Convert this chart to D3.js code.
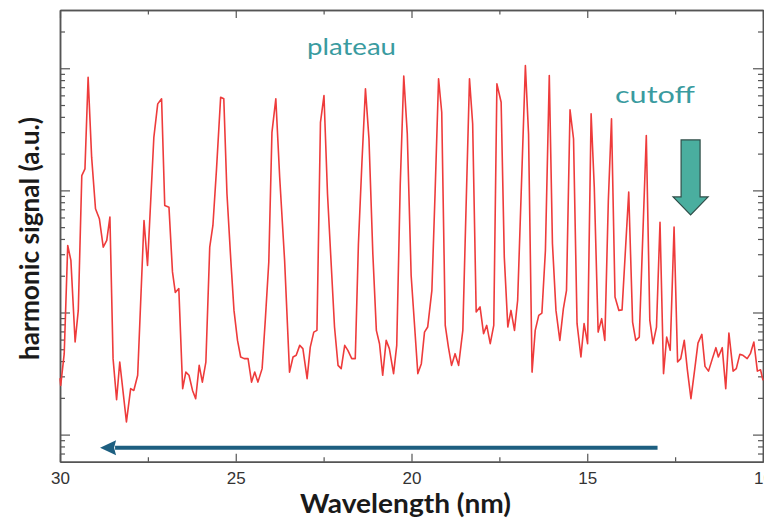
<!DOCTYPE html>
<html>
<head>
<meta charset="utf-8">
<script src="https://cdn.jsdelivr.net/npm/d3@7"></script>
<style>
  body { margin: 0; background: #fff; }
  .axis path, .axis line { stroke: #555; }
  .axis path { stroke-width: 1.5; }
  .axis line { stroke-width: 1.2; }
</style>
</head>
<body>
<div id="chart"></div>
<script>
// harmonic spectrum (wavelength in nm, signal in a.u.)
var wavelength = [30.00, 29.98, 29.88, 29.78, 29.69, 29.57, 29.48, 29.38, 29.29, 29.20,
  29.10, 28.99, 28.88, 28.77, 28.67, 28.58, 28.49, 28.39, 28.30, 28.11,
  27.99, 27.90, 27.79, 27.61, 27.51, 27.33, 27.22, 27.11, 27.02, 26.90,
  26.80, 26.72, 26.62, 26.51, 26.42, 26.33, 26.23, 26.14, 26.04, 25.95,
  25.85, 25.74, 25.65, 25.55, 25.43, 25.34, 25.25, 25.14, 25.05, 24.95,
  24.86, 24.76, 24.65, 24.55, 24.46, 24.37, 24.25, 24.16, 24.06, 23.97,
  23.86, 23.75, 23.61, 23.47, 23.37, 23.28, 23.18, 23.09, 22.97, 22.88,
  22.78, 22.69, 22.59, 22.49, 22.39, 22.28, 22.19, 22.09, 22.00, 21.90,
  21.81, 21.70, 21.60, 21.51, 21.41, 21.31, 21.21, 21.10, 21.00, 20.91,
  20.82, 20.72, 20.63, 20.51, 20.42, 20.32, 20.22, 20.12, 20.01, 19.91,
  19.82, 19.72, 19.63, 19.54, 19.42, 19.33, 19.23, 19.14, 19.04, 18.95,
  18.86, 18.76, 18.66, 18.54, 18.45, 18.35, 18.26, 18.16, 18.05, 17.95,
  17.86, 17.76, 17.66, 17.57, 17.45, 17.36, 17.26, 17.17, 17.07, 16.98,
  16.76, 16.67, 16.57, 16.48, 16.38, 16.29, 16.19, 16.08, 15.99, 15.89,
  15.78, 15.68, 15.59, 15.49, 15.39, 15.29, 15.18, 15.09, 14.99, 14.89,
  14.80, 14.69, 14.59, 14.50, 14.40, 14.31, 14.21, 14.10, 14.01, 13.82,
  13.71, 13.62, 13.52, 13.32, 13.22, 13.13, 13.03, 12.93, 12.83, 12.74,
  12.64, 12.53, 12.43, 12.34, 12.24, 12.15, 12.05, 11.94, 11.85, 11.74,
  11.65, 11.55, 11.44, 11.34, 11.27, 11.16, 11.06, 10.97, 10.85, 10.76,
  10.66, 10.57, 10.45, 10.36, 10.26, 10.16, 10.07, 10.00];

var signal = [2.9, 2.53, 4.60, 35.4, 26.7, 5.73, 10.4, 132, 150, 844,
  187, 70.7, 58.6, 34.3, 38.9, 60.4, 4.19, 1.93, 3.93, 1.27,
  2.38, 2.30, 3.06, 56.7, 24.3, 272, 511, 562, 75.2, 72.9,
  21.5, 14.6, 15.7, 2.38, 3.25, 3.06, 2.30, 1.97, 3.69, 2.69,
  3.93, 34.3, 51.6, 145, 579, 562, 93.8, 26.7, 10.4, 5.91,
  4.32, 4.19, 4.19, 2.69, 3.25, 2.69, 3.47, 8.62, 25.9, 299,
  562, 128, 26.7, 3.25, 4.32, 4.46, 5.38, 5.06, 2.87, 5.21,
  6.91, 7.14, 361, 598, 93.8, 23.5, 7.60, 3.69, 3.47, 5.38,
  4.90, 4.19, 4.19, 36.6, 170, 678, 264, 30.3, 7.14, 5.55,
  3.06, 5.91, 5.06, 3.16, 5.38, 113, 863, 290, 20.1, 7.60,
  3.16, 3.81, 6.91, 7.60, 15.2, 93.8, 819, 436, 7.84, 5.21,
  3.69, 4.60, 3.69, 7.14, 68.5, 819, 351, 10.1, 11.1, 6.71,
  7.84, 5.55, 7.84, 745, 527, 28.4, 7.60, 10.4, 7.14, 12.6,
  1052, 290, 3.25, 7.14, 9.47, 9.89, 32.2, 871, 36.6, 10.4,
  5.91, 10.7, 15.2, 457, 264, 8.10, 4.32, 8.10, 5.55, 424,
  106, 6.91, 8.90, 5.91, 82.7, 385, 13.4, 10.4, 10.5, 96.7,
  8.35, 5.91, 6.29, 281, 8.62, 5.55, 7.60, 54.9, 3.16, 6.29,
  4.90, 50.0, 3.93, 4.19, 5.91, 3.36, 1.97, 3.47, 5.62, 6.62,
  3.62, 3.31, 4.19, 5.15, 4.32, 5.15, 2.38, 6.78, 3.31, 3.47,
  4.54, 4.46, 4.19, 4.60, 5.73, 3.31, 3.40, 2.78];

var xMajor = [30, 25, 20, 15, 10];
var xMinor = [27.5, 22.5, 17.5, 12.5];

// annotation anchors, in data units
var plateauArrow = { from: 13.0, to: 28.86, level: 0.78 };
var cutoffArrow = { at: 12.06, top: 259, tip: 63 };

var width = 764, height = 519;
var plot = { left: 60, right: 763, top: 10, bottom: 461.7 };

var x = d3.scaleLinear().domain([30, 10]).range([plot.left, plot.right]);
var y = d3.scaleLog().domain([0.6, 3000]).range([plot.bottom, plot.top]);

var yTicks = y.ticks().filter(function(v) { return v > 0.6 && v < 3000; });
var yMajor = yTicks.filter(function(v) { return Math.abs(Math.log10(v) % 1) < 1e-6; });
var yMinor = yTicks.filter(function(v) { return yMajor.indexOf(v) < 0; });

var svg = d3.select("#chart").append("svg")
    .attr("width", width)
    .attr("height", height);

svg.append("rect").attr("width", width).attr("height", height).attr("fill", "#fff");

// axes, ticks pointing into the plot
var xAxisG = svg.append("g").attr("class", "axis")
    .attr("transform", "translate(0," + plot.bottom + ")")
    .call(d3.axisBottom(x).tickValues(xMajor).tickSize(-8).tickSizeOuter(0).tickPadding(10)
      .tickFormat(d3.format("d")));
xAxisG.selectAll(".tick text")
    .attr("dy", "0.71em")
    .style("font-family", "'Liberation Sans', Arial, sans-serif")
    .style("font-size", "17px")
    .style("fill", "#333");
svg.append("g").attr("class", "axis")
    .attr("transform", "translate(0," + plot.bottom + ")")
    .call(d3.axisBottom(x).tickValues(xMinor).tickSize(-4.5).tickSizeOuter(0).tickFormat(""));
svg.append("g").attr("class", "axis")
    .attr("transform", "translate(0," + plot.top + ")")
    .call(d3.axisTop(x).tickValues(xMajor).tickSize(-8).tickSizeOuter(0).tickFormat(""));
svg.append("g").attr("class", "axis")
    .attr("transform", "translate(0," + plot.top + ")")
    .call(d3.axisTop(x).tickValues(xMinor).tickSize(-4.5).tickSizeOuter(0).tickFormat(""));

[[d3.axisLeft, plot.left], [d3.axisRight, plot.right]].forEach(function(a) {
  svg.append("g").attr("class", "axis")
      .attr("transform", "translate(" + a[1] + ",0)")
      .call(a[0](y).tickValues(yMajor).tickSize(-10).tickSizeOuter(0).tickFormat(""));
  svg.append("g").attr("class", "axis")
      .attr("transform", "translate(" + a[1] + ",0)")
      .call(a[0](y).tickValues(yMinor).tickSize(-5).tickSizeOuter(0).tickFormat(""));
});

// spectrum
var line = d3.line()
    .x(function(d) { return x(d[0]); })
    .y(function(d) { return y(d[1]); });

svg.append("path")
    .datum(d3.zip(wavelength, signal))
    .attr("fill", "none")
    .attr("stroke", "#ee3b3b")
    .attr("stroke-width", 1.6)
    .attr("stroke-linejoin", "round")
    .attr("d", line);

// plateau arrow (dark blue, pointing to long wavelengths)
var ay = y(plateauArrow.level), tipX = x(plateauArrow.to);
svg.append("line")
    .attr("x1", x(plateauArrow.from)).attr("x2", tipX + 15)
    .attr("y1", ay).attr("y2", ay)
    .attr("stroke", "#1d5f80").attr("stroke-width", 4);
svg.append("path")
    .attr("d", "M" + tipX + "," + ay + "L" + (tipX + 16) + "," + (ay - 7.5) +
      "L" + (tipX + 14) + "," + ay + "L" + (tipX + 16) + "," + (ay + 7.5) + "Z")
    .attr("fill", "#1d5f80");

// cutoff arrow (teal, pointing down)
var cx = x(cutoffArrow.at), cTop = y(cutoffArrow.top), cTip = y(cutoffArrow.tip);
var hb = cTip - 18;
svg.append("path")
    .attr("d", "M" + (cx - 9.5) + "," + cTop + "H" + (cx + 9.5) + "V" + hb + "H" + (cx + 17.5) +
      "L" + cx + "," + cTip + "L" + (cx - 17.5) + "," + hb + "H" + (cx - 9.5) + "Z")
    .attr("fill", "#4aae9f")
    .attr("stroke", "#2f4d48")
    .attr("stroke-width", 1.2);

// labels
var labelFont = "Lato, 'DejaVu Sans', sans-serif";
svg.append("text")
    .attr("x", 307).attr("y", 55)
    .attr("textLength", 89).attr("lengthAdjust", "spacingAndGlyphs")
    .style("font-family", labelFont).style("font-size", "23px")
    .attr("fill", "#3a9ba0")
    .text("plateau");
svg.append("text")
    .attr("x", 615).attr("y", 103)
    .attr("textLength", 80).attr("lengthAdjust", "spacingAndGlyphs")
    .style("font-family", labelFont).style("font-size", "23px")
    .attr("fill", "#3a9ba0")
    .text("cutoff");

svg.append("text")
    .attr("x", 300).attr("y", 513)
    .attr("textLength", 211).attr("lengthAdjust", "spacingAndGlyphs")
    .style("font-family", labelFont).style("font-size", "26px").style("font-weight", "bold")
    .attr("fill", "#1a1a1a")
    .text("Wavelength (nm)");

svg.append("text")
    .attr("transform", "translate(39,360) rotate(-90)")
    .attr("textLength", 243).attr("lengthAdjust", "spacingAndGlyphs")
    .style("font-family", labelFont).style("font-size", "26px").style("font-weight", "bold")
    .attr("fill", "#1a1a1a")
    .text("harmonic signal (a.u.)");
</script>
</body>
</html>
